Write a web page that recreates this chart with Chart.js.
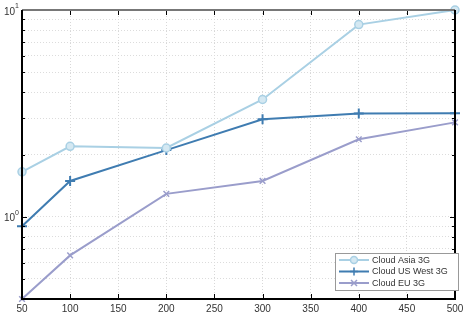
<!DOCTYPE html>
<html>
<head>
<meta charset="utf-8">
<script src="https://cdn.jsdelivr.net/npm/chart.js@4.4.1/dist/chart.umd.min.js"></script>
<style>
  html, body { margin: 0; padding: 0; background: #fff; }
  #wrap { width: 468px; height: 316px; }
</style>
</head>
<body>
<div id="wrap"><canvas id="myChart" width="468" height="316"></canvas></div>
<script>
const ctx = document.getElementById('myChart').getContext('2d');

// data
const xValues = [50, 100, 200, 300, 400, 500];
const asiaValues = [1.65, 2.19, 2.15, 3.69, 8.5, 10.0];
const usWestValues = [0.90, 1.49, 2.10, 2.96, 3.16, 3.17];
const euValues = [0.40, 0.65, 1.29, 1.49, 2.37, 2.86];
const seriesNames = ['Cloud Asia 3G', 'Cloud US West 3G', 'Cloud EU 3G'];
const xTicks = [50, 100, 150, 200, 250, 300, 350, 400, 450, 500];
const yMajor = [1, 10];
const yMinor = [0.4, 0.5, 0.6, 0.7, 0.8, 0.9, 2, 3, 4, 5, 6, 7, 8, 9];

const colAsia = '#a9d0e4';
const colUs = '#3f7cb1';
const colEu = '#9a9dcb';

function pts(vals) {
    return xValues.map((x, i) => ({x: x, y: vals[i]}));
}

// box, inward ticks, y labels and legend, matlab style
const matlabBox = {
    id: 'matlabBox',
    afterDraw(chart) {
        const {ctx, chartArea: {top, bottom, left, right}, scales: {x, y}} = chart;
        ctx.save();
        ctx.lineCap = 'butt';
        // ticks
        ctx.strokeStyle = '#000';
        ctx.lineWidth = 1;
        xTicks.forEach(v => {
            const px = Math.round(x.getPixelForValue(v)) + 0.5;
            ctx.beginPath();
            ctx.moveTo(px, bottom); ctx.lineTo(px, bottom - 5);
            ctx.moveTo(px, top); ctx.lineTo(px, top + 5);
            ctx.stroke();
        });
        yMajor.concat(yMinor).forEach(v => {
            const len = yMajor.includes(v) ? 5 : 3;
            const py = Math.round(y.getPixelForValue(v)) + 0.5;
            ctx.beginPath();
            ctx.moveTo(left, py); ctx.lineTo(left + len, py);
            ctx.moveTo(right, py); ctx.lineTo(right - len, py);
            ctx.stroke();
        });
        // box
        ctx.lineWidth = 2;
        ctx.strokeStyle = '#777';
        ctx.beginPath(); ctx.moveTo(left, top); ctx.lineTo(right, top); ctx.stroke();
        ctx.strokeStyle = '#000';
        ctx.beginPath();
        ctx.moveTo(left, top); ctx.lineTo(left, bottom); ctx.lineTo(right, bottom); ctx.lineTo(right, top);
        ctx.stroke();

        // y labels 10^n
        ctx.fillStyle = '#333';
        ctx.textBaseline = 'middle';
        yMajor.forEach(v => {
            const py = y.getPixelForValue(v);
            const exp = String(Math.round(Math.log10(v)));
            ctx.font = '7px "Liberation Sans", Arial, sans-serif';
            ctx.textAlign = 'right';
            const ew = ctx.measureText(exp).width;
            ctx.fillText(exp, left - 3, py - 4);
            ctx.font = '10px "Liberation Sans", Arial, sans-serif';
            ctx.fillText('10', left - 3 - ew, py + 2);
        });

        // legend
        const lx = 335, ly = 253, lw = 123, lh = 37;
        ctx.fillStyle = '#fff';
        ctx.fillRect(lx, ly, lw, lh);
        ctx.strokeStyle = '#999';
        ctx.lineWidth = 1;
        ctx.strokeRect(lx + 0.5, ly + 0.5, lw, lh);
        ctx.font = '9px "Liberation Sans", Arial, sans-serif';
        ctx.textAlign = 'left';
        chart.data.datasets.forEach((ds, i) => {
            const ry = ly + 7 + i * 11.5;
            ctx.strokeStyle = ds.borderColor;
            ctx.lineWidth = 2;
            ctx.beginPath(); ctx.moveTo(lx + 4, ry); ctx.lineTo(lx + 34, ry); ctx.stroke();
            ctx.lineWidth = 1.5;
            const cx = lx + 19;
            ctx.beginPath();
            if (ds.pointStyle === 'circle') {
                ctx.fillStyle = ds.pointBackgroundColor;
                ctx.arc(cx, ry, 3.5, 0, Math.PI * 2);
                ctx.fill(); ctx.stroke();
            } else if (ds.pointStyle === 'cross') {
                ctx.moveTo(cx - 4, ry); ctx.lineTo(cx + 4, ry);
                ctx.moveTo(cx, ry - 4); ctx.lineTo(cx, ry + 4);
                ctx.stroke();
            } else {
                ctx.moveTo(cx - 3, ry - 3); ctx.lineTo(cx + 3, ry + 3);
                ctx.moveTo(cx - 3, ry + 3); ctx.lineTo(cx + 3, ry - 3);
                ctx.stroke();
            }
            ctx.fillStyle = '#333';
            ctx.fillText(ds.label, lx + 37, ry + 0.5);
        });
        ctx.restore();
    }
};

const data = {
    datasets: [
        {
            label: seriesNames[0],
            data: pts(asiaValues),
            borderColor: colAsia,
            pointBackgroundColor: '#d4e8f2',
            pointBorderColor: colAsia,
            pointStyle: 'circle',
            pointRadius: 4,
            pointBorderWidth: 1.5,
            borderWidth: 2
        },
        {
            label: seriesNames[1],
            data: pts(usWestValues),
            borderColor: colUs,
            pointBackgroundColor: colUs,
            pointBorderColor: colUs,
            pointStyle: 'cross',
            pointRadius: 5,
            pointBorderWidth: 2,
            borderWidth: 2
        },
        {
            label: seriesNames[2],
            data: pts(euValues),
            borderColor: colEu,
            pointBackgroundColor: colEu,
            pointBorderColor: colEu,
            pointStyle: 'crossRot',
            pointRadius: 4,
            pointBorderWidth: 1.5,
            borderWidth: 2
        }
    ]
};

const config = {
    type: 'line',
    data,
    options: {
        responsive: false,
        animation: false,
        clip: false,
        layout: {padding: {top: 10, right: 13, left: 0, bottom: 0}},
        plugins: {
            legend: {display: false},
            tooltip: {enabled: false}
        },
        scales: {
            x: {
                type: 'linear',
                min: 50,
                max: 500,
                afterBuildTicks: scale => { scale.ticks = xTicks.map(v => ({value: v})); },
                ticks: {
                    color: '#333',
                    padding: 4,
                    maxRotation: 0,
                    font: {family: '"Liberation Sans", Arial, sans-serif', size: 10}
                },
                grid: {
                    color: '#d8d8d8',
                    lineWidth: 1,
                    drawTicks: false,
                    tickLength: 0
                },
                // in v4 the dash of the border also dashes the grid lines
                border: {display: false, dash: [1, 2]},
                afterFit: scale => { scale.height = 17; }
            },
            y: {
                type: 'logarithmic',
                min: 0.4,
                max: 10,
                afterBuildTicks: scale => {
                    scale.ticks = yMinor.concat(yMajor).sort((a, b) => a - b).map(v => ({value: v}));
                },
                ticks: {display: false},
                grid: {
                    color: '#dcdcdc',
                    lineWidth: 1,
                    drawTicks: false,
                    tickLength: 0
                },
                border: {display: false, dash: [1, 2]},
                afterFit: scale => { scale.width = 22; }
            }
        }
    },
    plugins: [matlabBox]
};

const myChart = new Chart(ctx, config);
</script>
</body>
</html>
